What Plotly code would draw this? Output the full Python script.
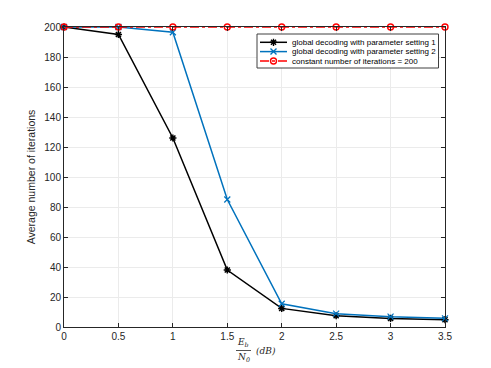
import plotly.graph_objects as go

ebn0 = [0, 0.5, 1, 1.5, 2, 2.5, 3, 3.5]
setting1 = [200, 195, 126, 38, 12.4, 7.5, 5.7, 4.9]
setting2 = [200, 200, 196.5, 85, 15.5, 8.9, 6.9, 5.8]
constant = [200, 200, 200, 200, 200, 200, 200, 200]

names = [
    "global decoding with parameter setting 1",
    "global decoding with parameter setting 2",
    "constant number of iterations = 200",
]
y_ticks = [0, 20, 40, 60, 80, 100, 120, 140, 160, 180, 200]
x_ticks = [0, 0.5, 1, 1.5, 2, 2.5, 3, 3.5]

styles = [
    dict(color="black", dash="solid", symbol="asterisk-open", mw=1.5),
    dict(color="#0072BD", dash="solid", symbol="x-thin-open", mw=1.2),
    dict(color="#FF0000", dash="dashdot", symbol="circle-open", mw=1.4),
]

fig = go.Figure()

for ys, name, st in zip([setting1, setting2, constant], names, styles):
    fig.add_trace(go.Scatter(
        x=ebn0, y=ys, name=name, mode="lines+markers", showlegend=False,
        line=dict(color=st["color"], width=1.5, dash=st["dash"]),
        marker=dict(symbol=st["symbol"], size=6, color=st["color"],
                    line=dict(color=st["color"], width=st["mw"])),
        cliponaxis=False,
    ))

axis_style = dict(
    showgrid=True,
    gridcolor="#EBEBEB",
    gridwidth=1,
    zeroline=False,
    showline=True,
    linecolor="#262626",
    linewidth=1,
    mirror="ticks",
    ticks="inside",
    ticklen=4,
    tickcolor="#262626",
    tickfont=dict(size=10, color="#262626"),
)

fig.update_layout(
    width=491,
    height=368,
    margin=dict(l=56, r=54, t=19, b=49),
    plot_bgcolor="white",
    paper_bgcolor="white",
    font=dict(family="Liberation Sans, Arial, sans-serif", color="#262626"),
    showlegend=False,
    xaxis=dict(range=[0, 3.5], tickvals=x_ticks,
               ticktext=[f"{v:g}" for v in x_ticks], **axis_style),
    yaxis=dict(range=[0, 200], tickvals=y_ticks,
               title=dict(text="Average number of iterations", font=dict(size=10.5), standoff=6),
               **axis_style),
)


# pixel position inside the plot box -> axis / paper units
def lx(px):
    return (px - 64) / 381 * 3.5


def ly(py):
    return (327 - py) / 1.5


def px_x(px):
    return (px - 64) / 381


def px_y(py):
    return (327 - py) / 300


# compact MATLAB-style legend box (above grid, below traces)
fig.add_shape(type="rect", xref="x", yref="y", x0=lx(257), x1=lx(438.5), y0=ly(34), y1=ly(68),
              line=dict(color="#404040", width=1), fillcolor="white", layer="between")
row_y = [42.3, 51.6, 61]
for name, st, ry in zip(names, styles, row_y):
    fig.add_shape(type="line", xref="x", yref="y", x0=lx(260), x1=lx(287), y0=ly(ry), y1=ly(ry),
                  line=dict(color=st["color"], width=1.5, dash=st["dash"]), layer="between")
    fig.add_annotation(x=lx(290), y=ly(ry), xref="x", yref="y", xanchor="left", yanchor="middle",
                       text=name, showarrow=False, font=dict(size=8, color="black"))
fig.add_trace(go.Scatter(
    x=[lx(273.5)] * 3, y=[ly(r) for r in row_y], mode="markers", hoverinfo="skip",
    marker=dict(symbol=[s["symbol"] for s in styles], size=6,
                color=[s["color"] for s in styles],
                line=dict(color=[s["color"] for s in styles], width=1.4)),
    cliponaxis=False, showlegend=False,
))

# x-axis label: Eb / N0 (dB) as a stacked fraction
label_font = dict(family="DejaVu Serif, serif", size=9, color="#262626")

fig.add_annotation(x=px_x(243), y=px_y(343), xref="paper", yref="paper",
                   xanchor="center", yanchor="middle",
                   text="<i>E<sub>b</sub></i>", showarrow=False, font=label_font)
fig.add_annotation(x=px_x(243), y=px_y(357.5), xref="paper", yref="paper",
                   xanchor="center", yanchor="middle",
                   text="<i>N<sub>0</sub></i>", showarrow=False, font=label_font)
fig.add_annotation(x=px_x(266), y=px_y(351), xref="paper", yref="paper",
                   xanchor="center", yanchor="middle",
                   text="<i>(dB)</i>", showarrow=False, font=label_font)
fig.add_shape(type="line", xref="paper", yref="paper",
              x0=px_x(236), x1=px_x(251),
              y0=px_y(350.5), y1=px_y(350.5),
              line=dict(color="#262626", width=0.8))

fig.write_html("out.html")
